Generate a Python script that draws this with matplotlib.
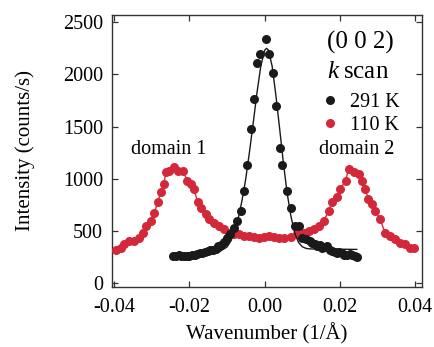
import matplotlib
matplotlib.use('Agg')
import matplotlib.pyplot as plt
from matplotlib.lines import Line2D

plt.rcParams['font.family'] = ['Liberation Serif', 'DejaVu Serif']
plt.rcParams['mathtext.fontset'] = 'custom'
plt.rcParams['mathtext.it'] = 'Liberation Serif:italic'
plt.rcParams['mathtext.rm'] = 'Liberation Serif'
plt.rcParams['axes.unicode_minus'] = False

# 110 K scan (two domains)
red_x = [-0.0395, -0.0381, -0.0373, -0.0360, -0.0346, -0.0333, -0.0324, -0.0315, -0.0302, -0.0293,
         -0.0284, -0.0276, -0.0268, -0.0262, -0.0253, -0.0240, -0.0230, -0.0218, -0.0205, -0.0196,
         -0.0187, -0.0178, -0.0170, -0.0156, -0.0147, -0.0134, -0.0121, -0.0108, -0.0094, -0.0081,
         -0.0068, -0.0055, -0.0042, -0.0028, -0.0015, -0.0002, 0.0011, 0.0025, 0.0038, 0.0051,
         0.0069, 0.0087, 0.0104, 0.0117, 0.0131, 0.0144, 0.0157, 0.0170, 0.0179, 0.0192,
         0.0201, 0.0215, 0.0223, 0.0237, 0.0250, 0.0259, 0.0267, 0.0276, 0.0285, 0.0294,
         0.0307, 0.0320, 0.0334, 0.0347, 0.0360, 0.0374, 0.0387, 0.0396]
red_y = [321, 338, 370, 402, 402, 434, 482, 547, 595, 675,
         772, 868, 948, 1061, 1077, 1109, 1077, 1077, 980, 948,
         900, 772, 723, 659, 611, 579, 547, 514, 482, 466,
         466, 450, 450, 444, 434, 444, 450, 444, 434, 434,
         444, 466, 482, 498, 514, 547, 595, 691, 772, 820,
         900, 980, 1093, 1061, 1045, 980, 900, 804, 755, 691,
         611, 482, 450, 418, 386, 370, 338, 338]

# 291 K scan
black_x = [-0.0242, -0.0235, -0.0228, -0.0221, -0.0214, -0.0207, -0.0200, -0.0193, -0.0186, -0.0179,
           -0.0172, -0.0165, -0.0158, -0.0151, -0.0144, -0.0137, -0.0130, -0.0123, -0.0116, -0.0109,
           -0.0100, -0.0091, -0.0082, -0.0073, -0.0062, -0.0054, -0.0046, -0.0037, -0.0028, -0.0019,
           -0.0011, 0.0003, 0.0013, 0.0022, 0.0031, 0.0040, 0.0047, 0.0060, 0.0069, 0.0080,
           0.0091, 0.0100, 0.0111, 0.0120, 0.0126, 0.0133, 0.0140, 0.0147, 0.0153, 0.0160,
           0.0166, 0.0173, 0.0179, 0.0186, 0.0192, 0.0199, 0.0206, 0.0212, 0.0219, 0.0226,
           0.0232, 0.0239, 0.0245]
black_y = [255, 262, 265, 255, 260, 262, 258, 270, 268, 280,
           285, 290, 300, 305, 318, 315, 330, 350, 365, 390,
           431, 470, 527, 590, 686, 884, 1132, 1474, 1762, 2106,
           2195, 2340, 2195, 2013, 1698, 1298, 1135, 884, 723, 550,
           550, 430, 418, 400, 386, 370, 354, 360, 338, 345,
           354, 320, 305, 300, 289, 295, 289, 270, 264, 280,
           273, 260, 251]

# fit curve to the 291 K peak
fit_x = [-0.0242, -0.016, -0.012, -0.010, -0.009, -0.008, -0.007, -0.006, -0.005, -0.004,
         -0.003, -0.002, -0.001, 0.0, 0.0005, 0.001, 0.002, 0.003, 0.004, 0.005,
         0.006, 0.007, 0.008, 0.009, 0.010, 0.011, 0.012, 0.014, 0.020, 0.0245]
fit_y = [262, 278, 300, 345, 400, 490, 620, 790, 1000, 1260,
         1540, 1830, 2080, 2230, 2250, 2235, 2080, 1800, 1480, 1150,
         860, 640, 480, 390, 348, 332, 327, 325, 324, 322]

red = '#d3283a'
black = '#1a1a1a'

fig = plt.figure(figsize=(4.34, 3.47), dpi=100)
ax = fig.add_axes([0.257, 0.173, 0.715, 0.784])

ax.plot(red_x, red_y, '-', color=red, lw=1.0, zorder=2)
ax.plot(red_x, red_y, 'o', color=red, ms=6.5, mec='none', zorder=3)
ax.plot(black_x, black_y, 'o', color=black, ms=6.5, mec='none', zorder=4)
ax.plot(fit_x, fit_y, '-', color=black, lw=1.0, zorder=5)

ax.set_xlim(-0.04066, 0.04178)
ax.set_ylim(-38, 2570)
ax.set_xticks([-0.04, -0.02, 0.0, 0.02, 0.04])
ax.set_xticklabels(['-0.04', '-0.02', '0.00', '0.02', '0.04'])
ax.set_yticks([0, 500, 1000, 1500, 2000, 2500])

ax.tick_params(direction='in', top=True, right=True, length=4, width=0.9,
               labelsize=14.5, pad=6, color='#333333')
ax.tick_params(axis='x', pad=8)
for s in ax.spines.values():
    s.set_color('#333333')
    s.set_linewidth(1.0)

ax.set_xlabel('Wavenumber (1/Å)', fontsize=15, labelpad=4)
ax.set_ylabel('Intensity (counts/s)', fontsize=15, labelpad=20)

ax.text(0.693, 0.90, '(0 0 2)', transform=ax.transAxes, fontsize=18, va='center', ha='left')
ax.text(0.693, 0.792, r'$\mathit{k}$' + '\u2009scan', transform=ax.transAxes, fontsize=18,
        va='center', ha='left')
ax.text(0.185, 0.505, 'domain 1', transform=ax.transAxes, fontsize=14.5, va='center', ha='center')
ax.text(0.79, 0.505, 'domain 2', transform=ax.transAxes, fontsize=14.5, va='center', ha='center')

handles = [Line2D([], [], ls='none', marker='o', color=black, ms=6.5, mec='none'),
           Line2D([], [], ls='none', marker='o', color=red, ms=6.5, mec='none')]
ax.legend(handles, ['291 K', '110 K'], loc='upper left', bbox_to_anchor=(0.628, 0.765),
          frameon=False, fontsize=14.5, handlelength=0.9, handletextpad=0.55,
          labelspacing=0.2, borderpad=0.2)

fig.savefig('out.png', dpi=100)
